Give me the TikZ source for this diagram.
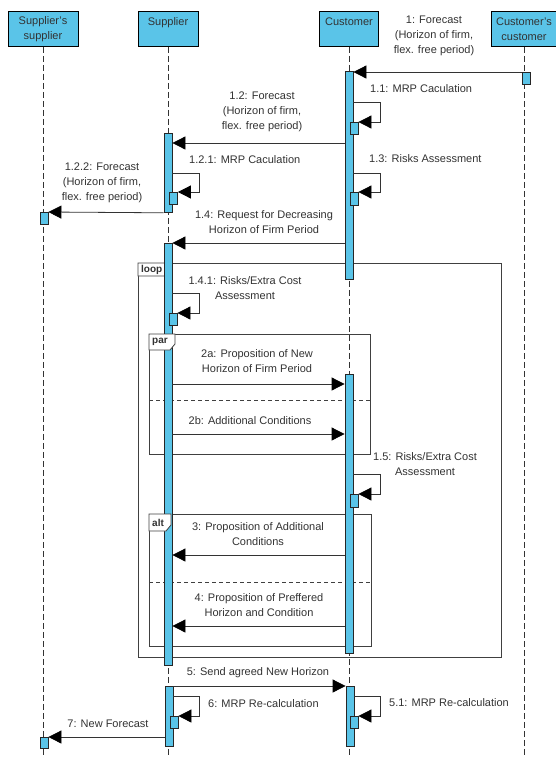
\documentclass[tikz,border=0pt]{standalone}
\usepackage{fontspec}
\setmainfont{Liberation Sans}
\usepackage{tikz}
\usetikzlibrary{arrows.meta,positioning}
\definecolor{vpblue}{RGB}{90,196,232}
\definecolor{vptext}{RGB}{50,50,50}
\tikzset{
    base text/.style={font=\fontsize{11}{15}\selectfont, text=vptext, inner sep=0pt},
    head/.style={rectangle, draw=black, line width=0.9pt, fill=vpblue, font=\fontsize{11}{15}\selectfont,
        text=vptext, align=center, minimum height=35pt, inner sep=2pt, anchor=north},
    lifeline/.style={draw=black!80, line width=0.8pt, dash pattern=on 6pt off 3pt},
    bar/.style={rectangle, draw=black!85, line width=0.8pt, fill=vpblue, minimum width=8pt,
        inner sep=0pt, anchor=north},
    msg/.style={draw=black!80, line width=0.8pt},
    lbl/.style={base text, align=center},
    lbl left/.style={base text, anchor=west},
    frame/.style={draw=black!75, line width=0.8pt},
    frame tag/.style={draw=black!75, line width=0.8pt, fill=white},
    tag text/.style={font=\bfseries\fontsize{10}{12}\selectfont, text=vptext, inner sep=0pt, anchor=west},
    split/.style={draw=black!75, line width=0.8pt, dash pattern=on 4pt off 3pt}
}

\begin{document}
\begin{tikzpicture}[x=1pt,y=-1pt,>={Triangle[length=13pt,width=13pt,color=black]}]
    \useasboundingbox (0,0) rectangle (556,758);
    % lifeline heads
    \node[head, minimum width=70pt] (sss) at (43,11) {Supplier's\\supplier};
    \node[head, minimum width=60pt] (sup) at (168,11) {Supplier\\~};
    \node[head, minimum width=59pt] (cus) at (349,11) {Customer\\~};
    \node[head, minimum width=66pt] (ccu) at (524,11) {Customer's\\customer};
    \foreach \who in {sss,sup,cus,ccu}
        \draw[lifeline] (\who.south) -- (\who.south |- 0,758);

    % combined fragments
    \draw[frame] (138,263) rectangle (501,657);
    \draw[frame tag] (138,263) -- (172,263) -- (172,270) -- (167,276) -- (138,276) -- cycle;
    \node[tag text] (tagloop) at (141,269.5) {loop};
    \draw[frame] (149,334) rectangle (370,454);
    \draw[split] (149,400) -- (370,400);
    \draw[frame] (149,514) rectangle (371,646);
    \draw[split] (149,582) -- (371,582);

    % activation bars
    \node[bar, minimum height=12pt] (ccuA) at (526,72) {};
    \node[bar, minimum height=208pt] (cuA) at (349,71) {};
    \node[bar, minimum height=12pt] (cuA1) at (354,122) {};
    \node[bar, minimum height=13pt] (cuA2) at (354,192) {};
    \node[bar, minimum height=79pt] (suA) at (168,133) {};
    \node[bar, minimum height=12pt] (suA1) at (173.5,192) {};
    \node[bar, minimum height=12pt] (ssA) at (44,212) {};
    \node[bar, minimum height=422pt] (suB) at (168,243) {};
    \node[bar, minimum height=12pt] (suB1) at (173,313) {};
    \node[bar, minimum height=279pt] (cuB) at (349,374) {};
    \node[bar, minimum height=13pt] (cuB1) at (354,494) {};
    \node[bar, minimum height=60pt] (suC) at (169,686) {};
    \node[bar, minimum height=12pt] (suC1) at (174,716) {};
    \node[bar, minimum height=60pt] (cuC) at (350,686) {};
    \node[bar, minimum height=12pt] (cuC1) at (354,716) {};
    \node[bar, minimum height=11pt] (ssB) at (44,737) {};

    % par / alt tags over the bar
    \draw[frame tag] (149,334) -- (175,334) -- (175,344) -- (170,350) -- (149,350) -- cycle;
    \node[tag text] (tagpar) at (152,342) {par};
    \draw[frame tag] (149,514) -- (171,514) -- (171,525) -- (166,531) -- (149,531) -- cycle;
    \node[tag text] (tagalt) at (152,522.5) {alt};

    % messages
    \draw[msg,->] (ccuA.north west) -- (cuA.east |- ccuA.north west);
    \draw[msg,->] (cuA.east |- 0,102) -- ++(27,0) |- (cuA1.north east);
    \draw[msg,->] (cuA.west |- 0,143) -- (suA.east |- 0,143);
    \draw[msg,->] (suA.east |- 0,173) -- ++(27,0) |- (suA1.north east);
    \draw[msg,->] (suA.south west) -- (ssA.north east);
    \draw[msg,->] (cuA.east |- 0,173) -- ++(27,0) |- (cuA2.north east);
    \draw[msg,->] (cuA.west |- suB.north) -- (suB.north east);
    \draw[msg,->] (suB.east |- 0,293) -- ++(27,0) |- (suB1.north east);
    \draw[msg,->] (suB.east |- 0,384) -- (cuB.west |- 0,384);
    \draw[msg,->] (suB.east |- 0,434) -- (cuB.west |- 0,434);
    \draw[msg,->] (cuB.east |- 0,474) -- ++(27,0) |- (cuB1.north east);
    \draw[msg,->] (cuB.west |- 0,555) -- (suB.east |- 0,555);
    \draw[msg,->] (cuB.west |- 0,626) -- (suB.east |- 0,626);
    \draw[msg,->] (suC.north east) -- (cuC.north west);
    \draw[msg,->] (suC.east |- 0,696) -- ++(26,0) |- (suC1.north east);
    \draw[msg,->] (cuC.east |- 0,696) -- ++(26,0) |- (cuC1.north east);
    \draw[msg,->] (suC.west |- ssB.north) -- (ssB.north east);

    % message labels
    \node[lbl] (l1) at (434,36) {1: Forecast\\(Horizon of firm,\\flex. free period)};
    \node[lbl left] (l11) at (370,89) {1.1: MRP Caculation};
    \node[lbl] (l12) at (262,112) {1.2: Forecast\\(Horizon of firm,\\flex. free period)};
    \node[lbl left] (l121) at (189,160) {1.2.1: MRP Caculation};
    \node[lbl left] (l13) at (369,159) {1.3: Risks Assessment};
    \node[lbl] (l122) at (102,183) {1.2.2: Forecast\\(Horizon of firm,\\flex. free period)};
    \node[lbl] (l14) at (264,222.5) {1.4: Request for Decreasing\\Horizon of Firm Period};
    \node[lbl] (l141) at (245,288.5) {1.4.1: Risks/Extra Cost\\Assessment};
    \node[lbl] (l2a) at (257,361.5) {2a: Proposition of New\\Horizon of Firm Period};
    \node[lbl] (l2b) at (250,421) {2b: Additional Conditions};
    \node[lbl] (l15) at (425,464.5) {1.5: Risks/Extra Cost\\Assessment};
    \node[lbl] (l3) at (258,534.5) {3: Proposition of Additional\\Conditions};
    \node[lbl] (l4) at (259,605.5) {4: Proposition of Preffered\\Horizon and Condition};
    \node[lbl] (l5) at (258,673) {5: Send agreed New Horizon};
    \node[lbl left] (l6) at (208,704) {6: MRP Re-calculation};
    \node[lbl left] (l51) at (389,703) {5.1: MRP Re-calculation};
    \node[lbl] (l7) at (108,724) {7: New Forecast};
\end{tikzpicture}
\end{document}
